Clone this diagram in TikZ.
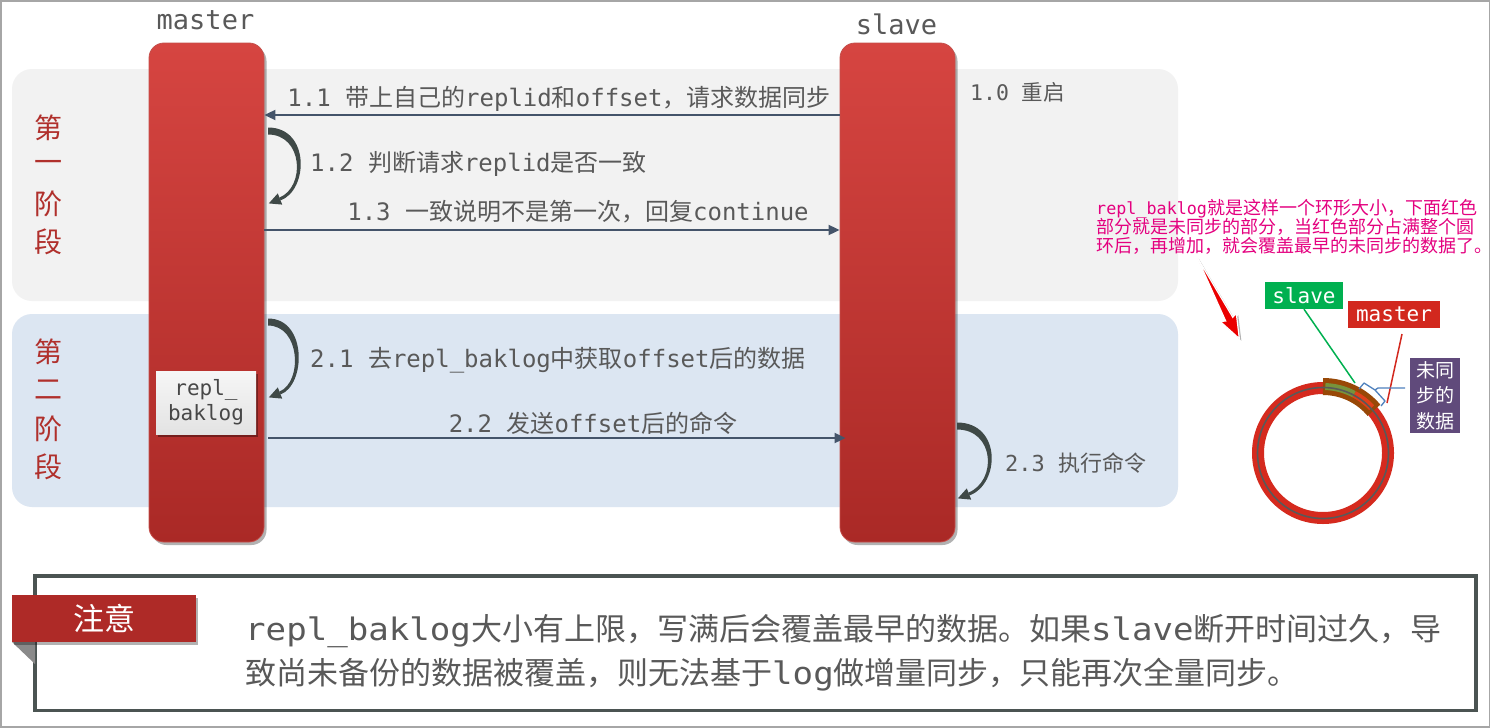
\documentclass[tikz,border=0pt]{standalone}
\usepackage{fontspec}
\setmainfont{Noto Sans CJK SC}
\newfontfamily\monof{DejaVu Sans Mono}
\newfontfamily\monos{DejaVu Sans Mono}[Scale=0.93]
\newfontfamily\monow{DejaVu Sans Mono}[FakeStretch=1.1]
\usetikzlibrary{arrows.meta,shadows}
\definecolor{framegray}{HTML}{A6A6A6}
\definecolor{bandA}{HTML}{F2F2F2}
\definecolor{bandB}{HTML}{DCE6F2}
\definecolor{barTop}{HTML}{D64541}
\definecolor{barMid}{HTML}{B22D29}
\definecolor{barBot}{HTML}{AA2926}
\definecolor{barEdge}{HTML}{C4504C}
\definecolor{txt}{HTML}{595959}
\definecolor{msgcol}{HTML}{44546A}
\definecolor{curvcol}{HTML}{3F4947}
\definecolor{stagered}{HTML}{B0302C}
\definecolor{magtext}{HTML}{E4007F}
\definecolor{ringred}{HTML}{D52A1E}
\definecolor{ringgray}{HTML}{595959}
\definecolor{segbrown}{HTML}{984807}
\definecolor{seggreen}{HTML}{77933C}
\definecolor{segred}{HTML}{E0401B}
\definecolor{bracketblue}{HTML}{4F81BD}
\definecolor{slavegreen}{HTML}{00B050}
\definecolor{masterred}{HTML}{D2281E}
\definecolor{purplebox}{HTML}{604A7B}
\definecolor{noteframe}{HTML}{4B5452}
\definecolor{tabred}{HTML}{AE2A27}
\definecolor{foldgray}{HTML}{8A8A8A}
\newcommand\fs[2]{\fontsize{#1}{#2}\selectfont}
\newcommand\m[1]{{\monof #1}}
\newcommand\ms[1]{{\monos #1}}
\newcommand\mw[1]{{\monow #1}}
\newcommand\curarr[4]{%
  \begin{scope}[shift={(#1,-#2)}]
    \pgfmathsetmacro\cb{1.33*#4}
    \pgfmathsetmacro\cy{-#3+4+0.4*(\cb-12)}
    \fill[curvcol] (0,3.5) .. controls ({\cb+3.5},3.5) and ({\cb+2},{\cy-1.5}) .. (12.6,{-#3+2.6})
      -- (11.4,{-#3+5.4}) .. controls ({\cb-1},{\cy+1.5}) and ({\cb-3.5},-3.5) .. (0,-3.5) -- cycle;
    \fill[curvcol] (0.8,{-#3-0.4}) -- (9.8,{-#3+9.6}) -- (14.2,{-#3-1.6}) -- cycle;
  \end{scope}}
\begin{document}
\begin{tikzpicture}[x=1pt,y=1pt,
  bar/.style={minimum width=115pt, minimum height=499pt, inner sep=0pt, rounded corners=15pt,
    top color=barTop, middle color=barMid, bottom color=barBot, draw=barEdge, line width=0.8pt,
    drop shadow={shadow xshift=2.5pt, shadow yshift=-3pt, opacity=0.3, fill=black}},
  lbl/.style={inner sep=0pt, text=txt, font=\fs{24}{28}},
  msg/.style={draw=msgcol, line width=1.8pt, -{Triangle[length=11pt,width=10pt]}},
  stage/.style={inner sep=0pt, text=stagered, font=\fs{28}{30}},
  mag/.style={inner sep=0pt, text=magtext, font=\fs{18}{19}, anchor=base west},
  note/.style={inner sep=0pt, text=txt, font=\fs{31}{34}, anchor=base west},
  ringlbl/.style={inner sep=0pt, text=white, font=\monof\fs{21}{24}, minimum height=27pt}
]
\useasboundingbox (0,0) rectangle (1491,-728);
\fill[white] (0,0) rectangle (1491,-728);
\draw[framegray, line width=1.2pt] (1,-1) rectangle (1489.5,-727);

% bands
\fill[bandA, rounded corners=20pt] (12,-69) rectangle (1178,-301);
\fill[bandB, rounded corners=20pt] (12,-314) rectangle (1178,-507);

% stage labels
\node[stage] (s1a) at (48,-128) {第};
\node[stage] (s1b) at (48,-166) {一};
\node[stage] (s1c) at (48,-204) {阶};
\node[stage] (s1d) at (48,-242) {段};
\node[stage] (s2a) at (48,-352) {第};
\node[stage] (s2b) at (48,-390) {二};
\node[stage] (s2c) at (48,-429) {阶};
\node[stage] (s2d) at (48,-467) {段};

% bars
\node[bar] (M) at (206.5,-292.5) {};
\node[bar] (S) at (897.5,-292.5) {};
\node[inner sep=0pt, text=txt, font=\monof\fs{27}{30}] (Mlbl) at (205.5,-20) {master};
\node[inner sep=0pt, text=txt, font=\monof\fs{27}{30}] (Slbl) at (896.5,-24) {slave};

% repl_baklog box
\node[minimum width=100pt, minimum height=63pt, inner sep=0pt, top color=white!93!gray, bottom color=white!78!gray,
  align=center, text=txt!80!black, font=\monof\fs{21}{25},
  drop shadow={shadow xshift=2pt, shadow yshift=-2.5pt, opacity=0.35, fill=black}] (R) at (206,-402.5) {repl\_\\baklog};

% message arrows
\coordinate (y115) at (0,-115);
\coordinate (y230) at (0,-230);
\coordinate (y438) at (0,-438);
\draw[msg] (S.west |- y115) -- (M.east |- y115);
\draw[msg] (M.east |- y230) -- (S.west |- y230);
\draw[msg] ([xshift=4pt]M.east |- y438) -- ([xshift=6pt]S.west |- y438);

% self arrows
\curarr{268}{131}{72}{29}
\curarr{268}{322}{75}{27}
\curarr{957}{426}{72}{31}

% labels
\node[lbl, anchor=base] (l11) at (559,-106) {\m{1.1 }带上自己的\m{replid}和\m{offset}，请求数据同步};
\node[lbl, anchor=base west] (l12) at (310,-171) {\m{1.2 }判断请求\m{replid}是否一致};
\node[lbl, anchor=base] (l13) at (578,-220) {\m{1.3 }一致说明不是第一次，回复\m{continue}};
\node[lbl, anchor=base west, font=\fs{21.5}{24}] (l10) at (970,-100) {\m{1.0 }重启};
\node[lbl, anchor=base west] (l21) at (310,-367) {\m{2.1 }去\m{repl\_baklog}中获取\m{offset}后的数据};
\node[lbl, anchor=base] (l22) at (593,-432) {\m{2.2 }发送\m{offset}后的命令};
\node[lbl, anchor=base west, font=\fs{22}{24}] (l23) at (1005,-471) {\m{2.3 }执行命令};

% magenta annotation
\node[mag] (a1) at (1096,-214) {\ms{repl\_baklog}就是这样一个环形大小，下面红色};
\node[mag] (a2) at (1096,-233) {部分就是未同步的部分，当红色部分占满整个圆};
\node[mag] (a3) at (1096,-252) {环后，再增加，就会覆盖最早的未同步的数据了。};

% red pointer arrow
\begin{scope}[shift={(1197,-257)}, rotate=-62.6]
  \filldraw[fill=red!92!black, draw=white, line width=1.2pt, line join=miter,
    drop shadow={shadow xshift=2pt, shadow yshift=-2pt, opacity=0.3, fill=black}]
    (0,0) -- (70,4) -- (68,9) -- (92,0) -- (68,-9) -- (70,-4) -- cycle;
\end{scope}

% ring
\coordinate (C) at (1323,-453);
\draw[ringred, line width=12pt] (C) circle[radius=65];
\draw[segbrown, line width=17pt] ([shift={(90:66.5)}]C) arc[start angle=90, end angle=40, radius=66.5];
\draw[seggreen, line width=7pt] ([shift={(88:66.5)}]C) arc[start angle=88, end angle=62, radius=66.5];
\draw[segred, line width=7pt] ([shift={(62:66.5)}]C) arc[start angle=62, end angle=43, radius=66.5];
\draw[ringgray, line width=1.6pt] (C) circle[radius=65.5];

% ring labels
\node[ringlbl, fill=slavegreen, minimum width=78pt] (SL) at (1304,-295.5) {slave};
\node[ringlbl, fill=masterred, minimum width=92pt] (ML) at (1394,-314.5) {master};
\node[inner sep=0pt, fill=purplebox, text=white, minimum width=50pt, minimum height=75pt,
  align=center, font=\fs{19}{25.5}] (P) at (1435,-395.5) {未同\\步的\\数据};
\coordinate (gEnd) at (1355,-383);
\coordinate (rStart) at (1402,-334);
\coordinate (rEnd) at (1387,-403);
\draw[slavegreen, line width=1.5pt] (SL.south) -- (gEnd);
\draw[masterred, line width=1.5pt] (rStart) -- (rEnd);
\coordinate (b1) at (1359,-389);
\coordinate (b2) at (1364,-383);
\coordinate (b3) at (1375,-390);
\coordinate (b4) at (1378,-388);
\coordinate (b5) at (1385,-401);
\coordinate (b6) at (1381,-406);
\coordinate (bp) at (1405,-388);
\draw[bracketblue, line width=1.3pt, line join=round] (b1) -- (b2) -- (b3) -- (b5) -- (b6);
\draw[bracketblue, line width=1.3pt, line join=round] (b3) -- (b4) -- (bp);

% note box
\draw[noteframe, line width=3.5pt] (35,-576) rectangle (1476,-710.5);
\fill[foldgray] (12,-642) -- (35,-642) -- (35,-664) -- cycle;
\node[fill=tabred, minimum width=184pt, minimum height=47pt, inner sep=0pt, text=white, font=\fs{31}{34},
  drop shadow={shadow xshift=2pt, shadow yshift=-3pt, opacity=0.3, fill=black}] (T) at (104,-618.5) {注意};
\node[note] (n1) at (245,-640) {\mw{repl\_baklog}大小有上限，写满后会覆盖最早的数据。如果\mw{slave}断开时间过久，导};
\node[note] (n2) at (245,-684) {致尚未备份的数据被覆盖，则无法基于\mw{log}做增量同步，只能再次全量同步。};
\end{tikzpicture}
\end{document}
